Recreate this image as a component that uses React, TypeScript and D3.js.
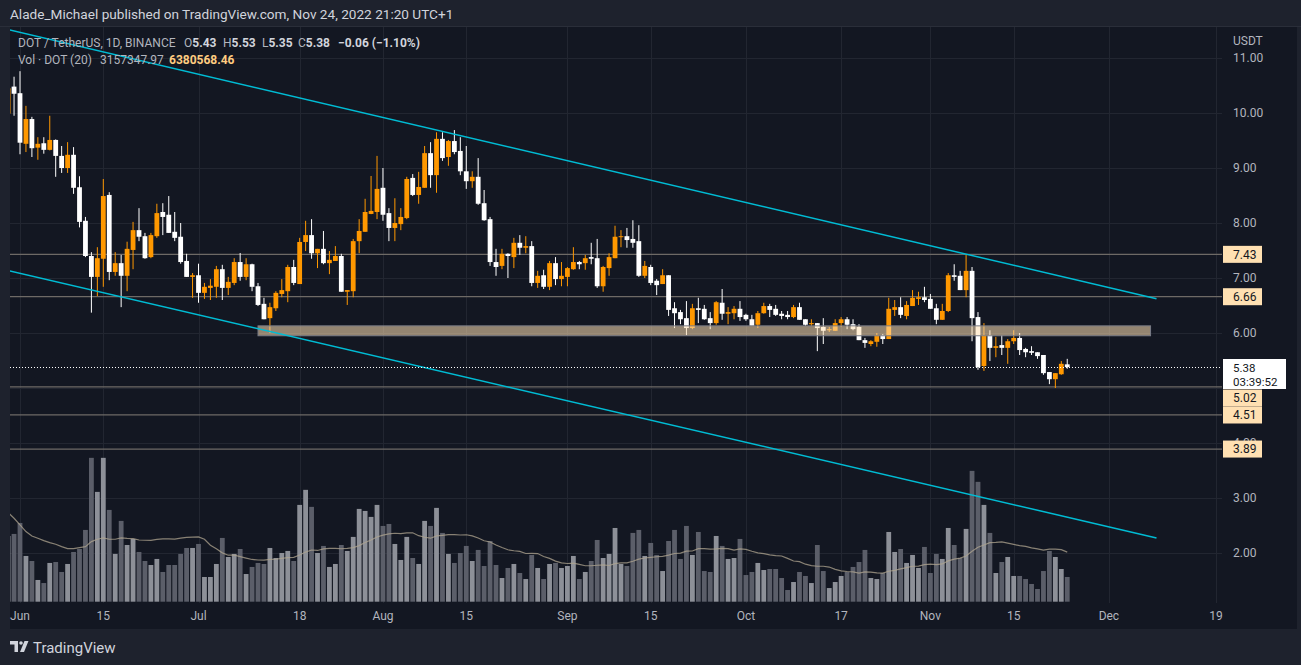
import React from "react";
import * as d3 from "d3";

// ---------- DATA ----------
const FIRST_DAY = "2022-05-30"; // daily bars, one per day from here
const opens = [
  9.99, 10.48, 10.36, 9.44, 9.89, 9.37, 9.45, 9.33, 9.51, 9.22, 9.0, 9.24, 8.65, 8.04, 7.4, 7.02, 7.35, 8.51, 7.11, 7.27,
  7.04, 7.51, 7.87, 7.76, 7.38, 7.76, 8.2, 8.15, 7.84, 7.75, 7.31, 7.02, 7.05, 6.73, 6.82, 6.84, 7.16, 6.82, 6.91, 7.29,
  7.02, 7.25, 6.85, 6.53, 6.27, 6.45, 6.71, 6.76, 7.2, 6.89, 7.655, 7.78, 7.45, 7.53, 7.27, 7.31, 7.4, 6.75, 6.76, 7.67,
  7.84, 8.165, 8.2, 8.64, 8.18, 7.91, 7.98, 8.09, 8.82, 8.51, 8.64, 9.27, 8.87, 9.53, 9.2, 9.49, 9.31, 8.94, 8.76, 8.84,
  8.36, 8.07, 7.29, 7.22, 7.44, 7.38, 7.64, 7.55, 7.58, 6.91, 7.05, 6.84, 7.27, 6.98, 7.02, 7.16, 7.29, 7.27, 7.38, 7.36,
  6.85, 7.18, 7.36, 7.75, 7.76, 7.71, 7.67, 7.04, 7.2, 6.95, 6.89, 7.05, 6.45, 6.38, 6.27, 6.09, 6.45, 6.44, 6.27, 6.18,
  6.55, 6.35, 6.36, 6.44, 6.33, 6.25, 6.15, 6.36, 6.49, 6.44, 6.35, 6.33, 6.29, 6.47, 6.25, 6.16, 6.18, 6.11, 6.05, 6.04,
  6.18, 6.25, 6.16, 6.11, 5.87, 5.8, 5.84, 5.96, 5.89, 6.42, 6.47, 6.31, 6.49, 6.62, 6.65, 6.62, 6.45, 6.24, 6.4, 7.05,
  7.04, 6.78, 7.13, 6.29, 5.4, 5.96, 5.73, 5.78, 5.73, 5.85, 5.91, 5.71, 5.67, 5.65, 5.6, 5.29, 5.16, 5.25, 5.43,
];
const highs = [
  10.5, 10.66, 10.76, 10.13, 9.93, 9.56, 9.56, 9.95, 9.52, 9.4, 9.47, 9.38, 8.85, 8.11, 7.47, 7.56, 8.8, 8.56, 7.47, 7.42,
  7.66, 8.02, 8.27, 7.82, 7.82, 8.35, 8.36, 8.49, 8.2, 8.0, 7.44, 7.09, 7.26, 6.91, 6.98, 7.22, 7.24, 7.02, 7.36, 7.455,
  7.36, 7.26, 6.91, 6.64, 6.55, 6.76, 6.98, 7.24, 7.33, 7.73, 8.04, 8.07, 7.53, 7.855, 7.49, 7.58, 7.44, 6.78, 7.71, 8.07,
  8.44, 8.855, 9.22, 9.0, 8.27, 8.45, 8.27, 8.84, 8.89, 8.93, 9.4, 9.47, 9.65, 9.65, 9.51, 9.69, 9.56, 9.4, 8.94, 9.18,
  8.6, 8.11, 7.53, 7.53, 7.45, 7.73, 7.78, 7.76, 7.67, 7.13, 7.15, 7.31, 7.38, 7.29, 7.2, 7.56, 7.31, 7.42, 7.64, 7.71,
  7.22, 7.45, 7.95, 7.87, 7.91, 8.05, 7.96, 7.31, 7.24, 6.98, 7.16, 7.05, 6.56, 6.42, 6.58, 6.53, 6.64, 6.51, 6.38, 6.58,
  6.8, 6.47, 6.49, 6.58, 6.35, 6.33, 6.4, 6.55, 6.53, 6.51, 6.4, 6.4, 6.51, 6.55, 6.25, 6.25, 6.18, 6.27, 6.11, 6.25,
  6.29, 6.29, 6.25, 6.16, 5.91, 5.87, 6.0, 5.98, 6.64, 6.6, 6.65, 6.58, 6.78, 6.75, 6.84, 6.71, 6.53, 6.53, 7.09, 7.25,
  7.13, 7.42, 7.2, 6.38, 6.18, 6.05, 5.93, 5.96, 5.89, 6.05, 6.0, 5.73, 5.76, 5.65, 5.6, 5.29, 5.27, 5.49, 5.53,
];
const lows = [
  9.95, 9.95, 9.25, 9.29, 9.2, 9.15, 9.26, 9.32, 8.84, 8.91, 8.91, 8.53, 7.92, 7.38, 6.37, 6.67, 6.84, 6.96, 7.04, 6.47,
  6.76, 7.16, 7.67, 7.35, 7.36, 7.73, 7.78, 7.82, 7.67, 7.26, 7.02, 6.64, 6.55, 6.62, 6.6, 6.64, 6.6, 6.69, 6.87, 6.95,
  6.96, 6.76, 6.49, 6.25, 6.0, 6.4, 6.65, 6.56, 6.87, 6.89, 7.49, 7.35, 7.18, 7.25, 7.07, 7.31, 6.75, 6.51, 6.65, 7.45,
  7.84, 8.16, 8.07, 8.04, 7.67, 7.67, 7.87, 8.07, 8.49, 8.35, 8.64, 8.64, 8.55, 9.13, 9.04, 9.25, 8.87, 8.62, 8.64, 8.33,
  8.04, 7.22, 7.04, 7.16, 7.0, 7.18, 7.42, 7.45, 6.85, 6.82, 6.8, 6.78, 6.87, 6.85, 6.85, 7.15, 7.16, 7.15, 7.25, 6.82,
  6.75, 7.04, 7.36, 7.56, 7.55, 7.55, 7.02, 7.0, 6.87, 6.69, 6.89, 6.31, 6.09, 6.16, 5.96, 6.07, 6.18, 6.24, 6.07, 6.15,
  6.24, 6.16, 6.25, 6.22, 6.22, 6.13, 6.09, 6.35, 6.29, 6.31, 6.25, 6.25, 6.27, 6.24, 6.13, 6.13, 5.67, 5.8, 6.02, 6.04,
  6.11, 6.07, 6.05, 5.87, 5.73, 5.76, 5.75, 5.8, 5.89, 6.31, 6.27, 6.25, 6.49, 6.51, 6.56, 6.44, 6.16, 6.24, 6.38, 6.95,
  6.78, 6.65, 5.85, 5.33, 5.31, 5.49, 5.56, 5.6, 5.44, 5.8, 5.6, 5.56, 5.6, 5.53, 5.24, 5.07, 5.0, 5.24, 5.35,
];
const closes = [
  10.45, 10.35, 9.46, 9.89, 9.36, 9.44, 9.33, 9.51, 9.22, 9.0, 9.24, 8.64, 8.02, 7.4, 7.02, 7.36, 8.49, 7.11, 7.27, 7.04,
  7.53, 7.87, 7.75, 7.36, 7.78, 8.18, 8.11, 7.82, 7.73, 7.29, 7.02, 7.05, 6.73, 6.84, 6.86, 7.16, 6.82, 6.93, 7.29, 7.02,
  7.25, 6.84, 6.51, 6.25, 6.47, 6.73, 6.78, 7.2, 6.91, 7.655, 7.78, 7.45, 7.53, 7.27, 7.33, 7.4, 6.75, 6.78, 7.67, 7.855,
  8.2, 8.22, 8.62, 8.15, 7.91, 8.0, 8.11, 8.8, 8.51, 8.655, 9.27, 8.87, 9.53, 9.18, 9.49, 9.29, 8.94, 8.76, 8.84, 8.35,
  8.05, 7.29, 7.2, 7.44, 7.4, 7.64, 7.55, 7.58, 6.91, 7.04, 6.84, 7.27, 6.98, 7.04, 7.18, 7.29, 7.25, 7.36, 7.35, 6.85,
  7.2, 7.38, 7.75, 7.76, 7.69, 7.64, 7.04, 7.22, 6.91, 6.87, 7.05, 6.42, 6.36, 6.25, 6.09, 6.45, 6.42, 6.25, 6.18, 6.56,
  6.35, 6.38, 6.44, 6.29, 6.25, 6.13, 6.36, 6.49, 6.42, 6.33, 6.31, 6.29, 6.47, 6.24, 6.15, 6.18, 6.09, 6.04, 6.07, 6.18,
  6.25, 6.15, 6.07, 5.87, 5.82, 5.85, 5.96, 5.89, 6.44, 6.47, 6.33, 6.51, 6.64, 6.65, 6.6, 6.44, 6.24, 6.4, 7.05, 7.02,
  6.78, 7.13, 6.27, 5.38, 5.96, 5.73, 5.76, 5.73, 5.85, 5.91, 5.69, 5.65, 5.64, 5.58, 5.27, 5.16, 5.27, 5.44, 5.38,
];
// volume in millions of DOT
const volumes = [
  8.38, 8.64, 10.04, 5.83, 5.19, 2.77, 2.38, 4.94, 5.06, 3.79, 4.81, 6.34, 6.72, 9.15, 18.34, 14.0, 18.34, 11.7, 6.09, 10.3,
  7.23, 8.0, 6.34, 5.19, 4.68, 5.45, 3.79, 4.68, 4.68, 6.09, 6.85, 6.85, 7.36, 3.15, 3.15, 4.81, 8.13, 5.7, 6.09, 6.72,
  3.53, 4.43, 4.94, 4.81, 6.85, 5.57, 6.21, 6.47, 5.19, 12.34, 14.26, 12.09, 6.21, 7.11, 4.43, 4.81, 7.23, 6.47, 8.26, 11.83,
  11.57, 10.81, 12.34, 9.66, 9.91, 7.36, 5.32, 8.26, 5.57, 4.81, 10.3, 9.66, 11.96, 8.77, 6.09, 4.94, 6.21, 7.11, 5.19, 6.6,
  4.55, 7.74, 4.68, 3.02, 4.3, 4.81, 3.66, 2.89, 5.96, 4.3, 2.89, 4.81, 4.94, 4.3, 4.55, 5.83, 2.89, 3.79, 5.19, 7.87,
  5.57, 6.09, 9.4, 4.81, 4.55, 8.77, 9.15, 5.83, 7.49, 5.96, 3.91, 7.74, 9.15, 5.45, 9.66, 5.96, 8.89, 3.91, 3.79, 8.38,
  7.11, 5.45, 5.57, 8.0, 3.4, 3.79, 4.94, 4.04, 4.17, 4.17, 3.02, 1.49, 2.51, 3.79, 3.28, 2.38, 7.23, 3.91, 1.74, 2.51,
  3.28, 3.79, 4.43, 5.06, 6.6, 3.02, 2.89, 3.66, 8.89, 6.34, 6.72, 4.94, 5.96, 4.3, 6.98, 3.66, 6.09, 5.45, 9.4, 7.23,
  5.57, 9.28, 16.68, 15.28, 12.34, 8.77, 3.66, 5.06, 5.7, 3.28, 3.28, 2.89, 2.26, 1.62, 3.91, 6.47, 5.7, 4.17, 3.15,
];
// Vol MA(20) for the first bars (earlier history is off-screen)
const volumeMaStart = [
  11.36, 10.64, 9.79, 8.94, 8.38, 8.09, 7.79, 7.53, 7.32, 7.02, 6.77, 6.77, 6.89, 7.02, 7.66, 7.96, 8.13, 7.96, 7.96,
];
const MA_LENGTH = 20;

const xTickDates = [
  "2022-06-01", "2022-06-15", "2022-07-01", "2022-07-18", "2022-08-01", "2022-08-15", "2022-09-01",
  "2022-09-15", "2022-10-01", "2022-10-17", "2022-11-01", "2022-11-15", "2022-12-01", "2022-12-19",
];
const xTickLabels = ["Jun", "15", "Jul", "18", "Aug", "15", "Sep", "15", "Oct", "17", "Nov", "15", "Dec", "19"];
const priceTicks = [11, 10, 9, 8, 7, 6, 5, 4, 3, 2];
const hiddenPriceTicks = [5]; // covered by the price labels in the reference
const levelPrices = [7.43, 6.66, 5.02, 4.51, 3.89];
const upperTrend = [
  { date: "2022-05-30", price: 11.517 },
  { date: "2022-12-09", price: 6.622 },
];
const lowerTrend = [
  { date: "2022-05-30", price: 7.135 },
  { date: "2022-12-09", price: 2.274 },
];
const zoneStart = "2022-07-11";
const zoneEnd = "2022-12-08";
const zoneTop = 6.13;
const zoneBottom = 5.95;
const lastPrice = 5.38;
const countdown = "03:39:52";

// ---------- LAYOUT ----------
const W = 1301;
const H = 665;
const PL = 10;
const PR = 1222;
const PT = 27;
const PB = 603;
const FONT = "Roboto, 'Liberation Sans', sans-serif";
const UP = "#ff9800";
const DOWN = "#ffffff";

export default function App() {
  const x = d3
    .scaleUtc()
    .domain([new Date("2022-06-01"), new Date("2022-12-01")])
    .range([20, 1108.9]);
  const y = d3.scaleLinear().domain([2, 11]).range([553, 58]);
  const yVol = d3.scaleLinear().domain([0, 18.32]).range([601.7, 458]);

  const start = new Date(FIRST_DAY);
  const bars = closes.map((c, i) => ({
    date: d3.utcDay.offset(start, i),
    o: opens[i],
    h: highs[i],
    l: lows[i],
    c,
    v: volumes[i],
  }));
  const ma = bars.map((b, i) => {
    if (i < MA_LENGTH - 1) return volumeMaStart[i];
    return d3.mean(volumes.slice(i - MA_LENGTH + 1, i + 1)) as number;
  });
  const maLine = d3
    .line<number>()
    .x((_, i) => x(bars[i].date))
    .y((v) => yVol(v))
    .curve(d3.curveLinear);

  const bw = 4.8;
  const trendPath = (pts: { date: string; price: number }[]) =>
    d3
      .line<{ date: string; price: number }>()
      .x((p) => x(new Date(p.date)))
      .y((p) => y(p.price))(pts) as string;

  const grid = "#222631";
  const axisText = "#b2b5be";
  const levelColor = "#6e6a66";

  return (
    <div style={{ position: "fixed", left: 0, top: 0, width: W, height: H }}>
      <svg width={W} height={H} style={{ display: "block" }} fontFamily={FONT}>
        <defs>
          <clipPath id="plotClip">
            <rect x={PL} y={PT} width={PR - PL} height={PB - PT} />
          </clipPath>
        </defs>
        <rect x={0} y={0} width={W} height={H} fill="#1e222d" />
        <rect x={PL} y={PT} width={1297 - PL} height={629 - PT} fill="#131722" />
        <line x1={0} x2={W} y1={PT - 0.5} y2={PT - 0.5} stroke="#2a2e39" />

        {/* header */}
        <text x={10} y={18.5} fontSize={13.6} fill="#d1d4dc">
          Alade_Michael published on TradingView.com, Nov 24, 2022 21:20 UTC+1
        </text>

        {/* grid */}
        <g clipPath="url(#plotClip)">
          {priceTicks.map((p) => (
            <line key={"h" + p} x1={PL} x2={PR} y1={Math.round(y(p)) + 0.5} y2={Math.round(y(p)) + 0.5} stroke={grid} />
          ))}
          {xTickDates.map((d) => (
            <line
              key={"v" + d}
              x1={Math.round(x(new Date(d))) + 0.5}
              x2={Math.round(x(new Date(d))) + 0.5}
              y1={PT}
              y2={PB}
              stroke={grid}
            />
          ))}
        </g>

        <g clipPath="url(#plotClip)">
          {/* volume */}
          {bars.map((b, i) => (
            <rect
              key={"vb" + i}
              x={x(b.date) - bw / 2}
              y={yVol(b.v)}
              width={bw}
              height={yVol(0) - yVol(b.v)}
              fill={b.c >= b.o ? "#8d9098" : "#5b5e69"}
            />
          ))}
          <path d={maLine(ma) as string} fill="none" stroke="#b0a690" strokeOpacity={0.75} strokeWidth={1.2} />

          {/* level lines */}
          {levelPrices.map((p) => (
            <line key={"lv" + p} x1={PL} x2={PR} y1={y(p)} y2={y(p)} stroke={levelColor} strokeWidth={1.3} />
          ))}

          {/* candles */}
          {bars.map((b, i) => {
            const col = b.c >= b.o ? UP : DOWN;
            const top = y(Math.max(b.o, b.c));
            const bot = y(Math.min(b.o, b.c));
            const cx = x(b.date);
            return (
              <g key={"c" + i}>
                <line x1={cx} x2={cx} y1={y(b.h)} y2={y(b.l)} stroke={col} strokeWidth={1} />
                <rect x={cx - bw / 2} y={top} width={bw} height={Math.max(1, bot - top)} fill={col} />
              </g>
            );
          })}

          {/* zone */}
          <rect
            x={x(new Date(zoneStart))}
            y={y(zoneTop)}
            width={x(new Date(zoneEnd)) - x(new Date(zoneStart))}
            height={y(zoneBottom) - y(zoneTop)}
            fill="rgba(255,224,178,0.55)"
            stroke="#787b86"
            strokeWidth={1}
          />

          {/* trend lines */}
          <path d={trendPath(upperTrend)} stroke="#00bcd4" strokeWidth={1.5} fill="none" />
          <path d={trendPath(lowerTrend)} stroke="#00bcd4" strokeWidth={1.5} fill="none" />

          {/* last price line */}
          <line
            x1={PL}
            x2={PR}
            y1={Math.round(y(lastPrice)) + 0.5}
            y2={Math.round(y(lastPrice)) + 0.5}
            stroke="#ffffff"
            strokeDasharray="1 2"
          />
        </g>

        {/* legend */}
        <g fontSize={12}>
          <text x={18} y={47} fill="#b2b5be">
            DOT / TetherUS, 1D, BINANCE
          </text>
          <text x={184} y={47}>
            <tspan fill="#b2b5be">O</tspan>
            <tspan fill="#d1d4dc" fontWeight="bold">5.43</tspan>
          </text>
          <text x={223} y={47}>
            <tspan fill="#b2b5be">H</tspan>
            <tspan fill="#d1d4dc" fontWeight="bold">5.53</tspan>
          </text>
          <text x={262} y={47}>
            <tspan fill="#b2b5be">L</tspan>
            <tspan fill="#d1d4dc" fontWeight="bold">5.35</tspan>
          </text>
          <text x={298} y={47}>
            <tspan fill="#b2b5be">C</tspan>
            <tspan fill="#d1d4dc" fontWeight="bold">5.38</tspan>
          </text>
          <text x={338} y={47} fill="#d1d4dc" fontWeight="bold">
            −0.06 (−1.10%)
          </text>
          <text x={18} y={63.5} fill="#b2b5be">
            Vol · DOT (20)
          </text>
          <text x={100} y={63.5} fill="#b2b5be">
            3157347.97
          </text>
          <text x={169} y={63.5} fill="#ffcc80" fontWeight="bold">
            6380568.46
          </text>
        </g>

        {/* price axis */}
        <g fontSize={12} fill={axisText}>
          <text x={1233} y={45}>
            USDT
          </text>
          {priceTicks
            .filter((p) => !hiddenPriceTicks.includes(p))
            .map((p) => (
              <text key={"pt" + p} x={1233} y={y(p)} dy="0.35em">
                {p.toFixed(2)}
              </text>
            ))}
        </g>
        {levelPrices.map((p) => {
          const cy = p === 5.02 ? 398 : p === 4.51 ? 415 : y(p);
          return (
            <g key={"lb" + p}>
              <rect x={1223} y={cy - 8.5} width={39} height={17} fill="#ffe0b2" />
              <text x={1233} y={cy} dy="0.35em" fontSize={12} fill="#131722">
                {p.toFixed(2)}
              </text>
            </g>
          );
        })}
        <rect x={1223} y={359} width={63} height={30} fill="#ffffff" />
        <text x={1233} y={367.5} dy="0.35em" fontSize={11.5} fill="#131722">
          {lastPrice.toFixed(2)}
        </text>
        <text x={1233} y={381.5} dy="0.35em" fontSize={11.5} fill="#131722">
          {countdown}
        </text>

        {/* time axis */}
        <g fontSize={12} fill={axisText} textAnchor="middle">
          {xTickDates.map((d, i) => (
            <text key={"xt" + d} x={x(new Date(d))} y={620}>
              {xTickLabels[i]}
            </text>
          ))}
        </g>

        {/* footer logo */}
        <g fill="#d1d4dc">
          <path d="M10 641 h8 v11 h-3.5 v-7.5 h-4.5 z" />
          <circle cx={21} cy={643} r={1.8} />
          <path d="M24.5 641 h4 l-4.5 11 h-4 z" />
          <text x={33} y={652.5} fontSize={15}>
            TradingView
          </text>
        </g>
      </svg>
    </div>
  );
}
